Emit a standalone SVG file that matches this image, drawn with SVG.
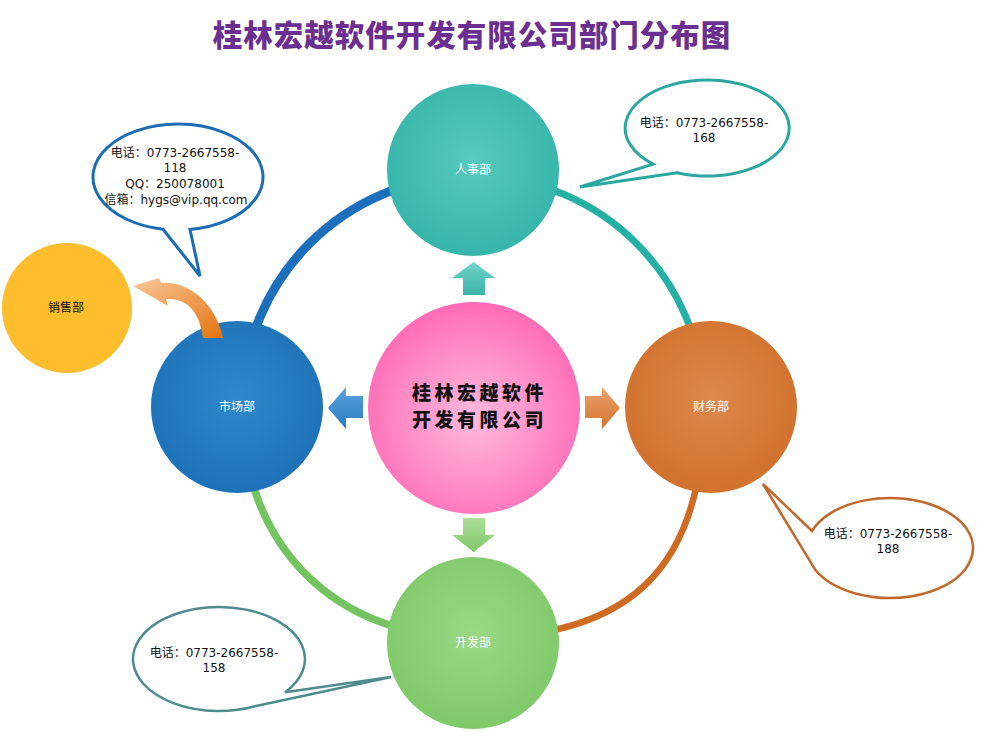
<svg xmlns="http://www.w3.org/2000/svg" width="988" height="732" viewBox="0 0 988 732">
<defs>
<style>
.title{font-family:"Noto Sans CJK SC","Noto Sans",sans-serif;font-weight:900;font-size:29.5px;fill:#6a2f91;letter-spacing:1px}
.nodelbl{font-family:"Noto Sans CJK SC","Noto Sans",sans-serif;font-size:12px;fill:#ffffff}
.darklbl{font-family:"Noto Sans CJK SC","Noto Sans",sans-serif;font-size:12px;fill:#111111}
.center{font-family:"Noto Sans CJK SC","Noto Sans",sans-serif;font-weight:900;font-size:19px;fill:#111111;letter-spacing:3.5px}
.note{font-family:"DejaVu Sans","Noto Sans CJK SC",sans-serif;font-size:12px;fill:#111111}
.arc{fill:none;stroke-linecap:butt}
</style>
<radialGradient id="gTeal" cx="50%" cy="45%" r="60%"><stop offset="0" stop-color="#58cabf"/><stop offset="1" stop-color="#33b3a8"/></radialGradient>
<radialGradient id="gBlue" cx="50%" cy="45%" r="60%"><stop offset="0" stop-color="#3089cc"/><stop offset="1" stop-color="#1c6fb6"/></radialGradient>
<radialGradient id="gOrange" cx="50%" cy="45%" r="60%"><stop offset="0" stop-color="#dc894b"/><stop offset="1" stop-color="#d06f2a"/></radialGradient>
<radialGradient id="gGreen" cx="50%" cy="45%" r="60%"><stop offset="0" stop-color="#9ad886"/><stop offset="1" stop-color="#7cc866"/></radialGradient>
<radialGradient id="gPink" cx="50%" cy="55%" r="60%"><stop offset="0" stop-color="#ffbadd"/><stop offset="0.55" stop-color="#ff8cc7"/><stop offset="1" stop-color="#ff63b2"/></radialGradient>
<linearGradient id="aTeal" x1="0" y1="0" x2="0" y2="1"><stop offset="0" stop-color="#6fd2c7"/><stop offset="1" stop-color="#3bb3a8"/></linearGradient>
<linearGradient id="aOrange" x1="0" y1="0" x2="0" y2="1"><stop offset="0" stop-color="#eda36c"/><stop offset="1" stop-color="#d2722f"/></linearGradient>
<linearGradient id="aGreen" x1="0" y1="0" x2="0" y2="1"><stop offset="0" stop-color="#acdf98"/><stop offset="1" stop-color="#7fc76a"/></linearGradient>
<linearGradient id="aBlue" x1="0" y1="0" x2="0" y2="1"><stop offset="0" stop-color="#5aa2dc"/><stop offset="1" stop-color="#2a7cc3"/></linearGradient>
<linearGradient id="aCurve" x1="0" y1="0" x2="1" y2="1"><stop offset="0" stop-color="#fbc79a"/><stop offset="1" stop-color="#e4740f"/></linearGradient>
</defs>
<rect width="988" height="732" fill="#ffffff"/>
<text class="title" x="472" y="46" text-anchor="middle">桂林宏越软件开发有限公司部门分布图</text>

<g id="connectors">
<path class="arc" d="M 242 407 C 242 279 345 176 473 176" stroke="#1c70bb" stroke-width="9"/>
<path class="arc" d="M 473 176 C 601 176 704 279 704 407" stroke="#25b0a6" stroke-width="7"/>
<path class="arc" d="M 704 407 C 704 566 632 638 473 638" stroke="#cf6a22" stroke-width="6.5"/>
<path class="arc" d="M 473 638 C 335 638 242 545 242 407" stroke="#73c460" stroke-width="7.5"/>
<polygon id="arrow-up" points="473.5,262 495,278 485,278 485,295 463,295 463,278 452,278" fill="url(#aTeal)"/>
<polygon id="arrow-down" points="463,518 485,518 485,535 495,535 473.5,552 452,535 463,535" fill="url(#aGreen)"/>
<polygon id="arrow-right" points="585,396 602,396 602,387 620,408 602,429 602,418 585,418" fill="url(#aOrange)"/>
<polygon id="arrow-left" points="363,396 346,396 346,387 328,408 346,429 346,418 363,418" fill="url(#aBlue)"/>
</g>

<g id="node-sales">
<circle cx="67" cy="308" r="65" fill="#fdbd2c"/>
<text class="darklbl" x="66" y="312" text-anchor="middle">销售部</text>
</g>

<g id="node-hr">
<circle cx="473" cy="170" r="86" fill="url(#gTeal)"/>
<text class="nodelbl" x="473" y="174" text-anchor="middle">人事部</text>
</g>

<g id="node-market">
<circle cx="237" cy="407" r="86" fill="url(#gBlue)"/>
<text class="nodelbl" x="237" y="411" text-anchor="middle">市场部</text>
</g>

<g id="node-finance">
<circle cx="711" cy="407" r="86" fill="url(#gOrange)"/>
<text class="nodelbl" x="711" y="411" text-anchor="middle">财务部</text>
</g>

<g id="node-dev">
<circle cx="473" cy="643" r="86" fill="url(#gGreen)"/>
<text class="nodelbl" x="473" y="647" text-anchor="middle">开发部</text>
</g>

<g id="node-center">
<circle cx="474" cy="408" r="106" fill="url(#gPink)"/>
<text class="center" x="479.5" y="400" text-anchor="middle">桂林宏越软件</text>
<text class="center" x="479.5" y="427" text-anchor="middle">开发有限公司</text>
</g>

<g id="curved-arrow">
<path d="M 223 338 C 215 300 185 280 161 283 L 159 278 L 133 286 L 168 306 L 166 299 C 190 298 200 315 203 338 Z" fill="url(#aCurve)"/>
</g>

<g id="callout-market">
<path d="M 190 229.5 A 85 53 0 1 0 163 229.2 L 200 276 Z" fill="#ffffff" stroke="#1a6db5" stroke-width="3" stroke-linejoin="miter"/>
<text class="note" x="175" y="157" text-anchor="middle">电话：0773-2667558-</text>
<text class="note" x="175" y="172" text-anchor="middle">118</text>
<text class="note" x="175" y="188" text-anchor="middle">QQ：250078001</text>
<text class="note" x="176" y="204" text-anchor="middle">信箱：hygs@vip.qq.com</text>
</g>

<g id="callout-hr">
<path d="M 677 172.7 A 82 48 0 1 0 653 164.1 L 580 187 Z" fill="#ffffff" stroke="#2aa89f" stroke-width="3"/>
<text class="note" x="704" y="127" text-anchor="middle">电话：0773-2667558-</text>
<text class="note" x="704" y="142" text-anchor="middle">168</text>
</g>

<g id="callout-finance">
<path d="M 812 531 A 83 50 0 1 1 815 569.4 L 763 484 Z" fill="#ffffff" stroke="#c2672a" stroke-width="2.5"/>
<text class="note" x="888" y="538" text-anchor="middle">电话：0773-2667558-</text>
<text class="note" x="888" y="553" text-anchor="middle">188</text>
</g>

<g id="callout-dev">
<path d="M 285 692.3 A 86 52 0 1 0 255 706.2 L 391 677 Z" fill="#ffffff" stroke="#4d8b8d" stroke-width="2.5"/>
<text class="note" x="214" y="657" text-anchor="middle">电话：0773-2667558-</text>
<text class="note" x="214" y="672" text-anchor="middle">158</text>
</g>
</svg>
